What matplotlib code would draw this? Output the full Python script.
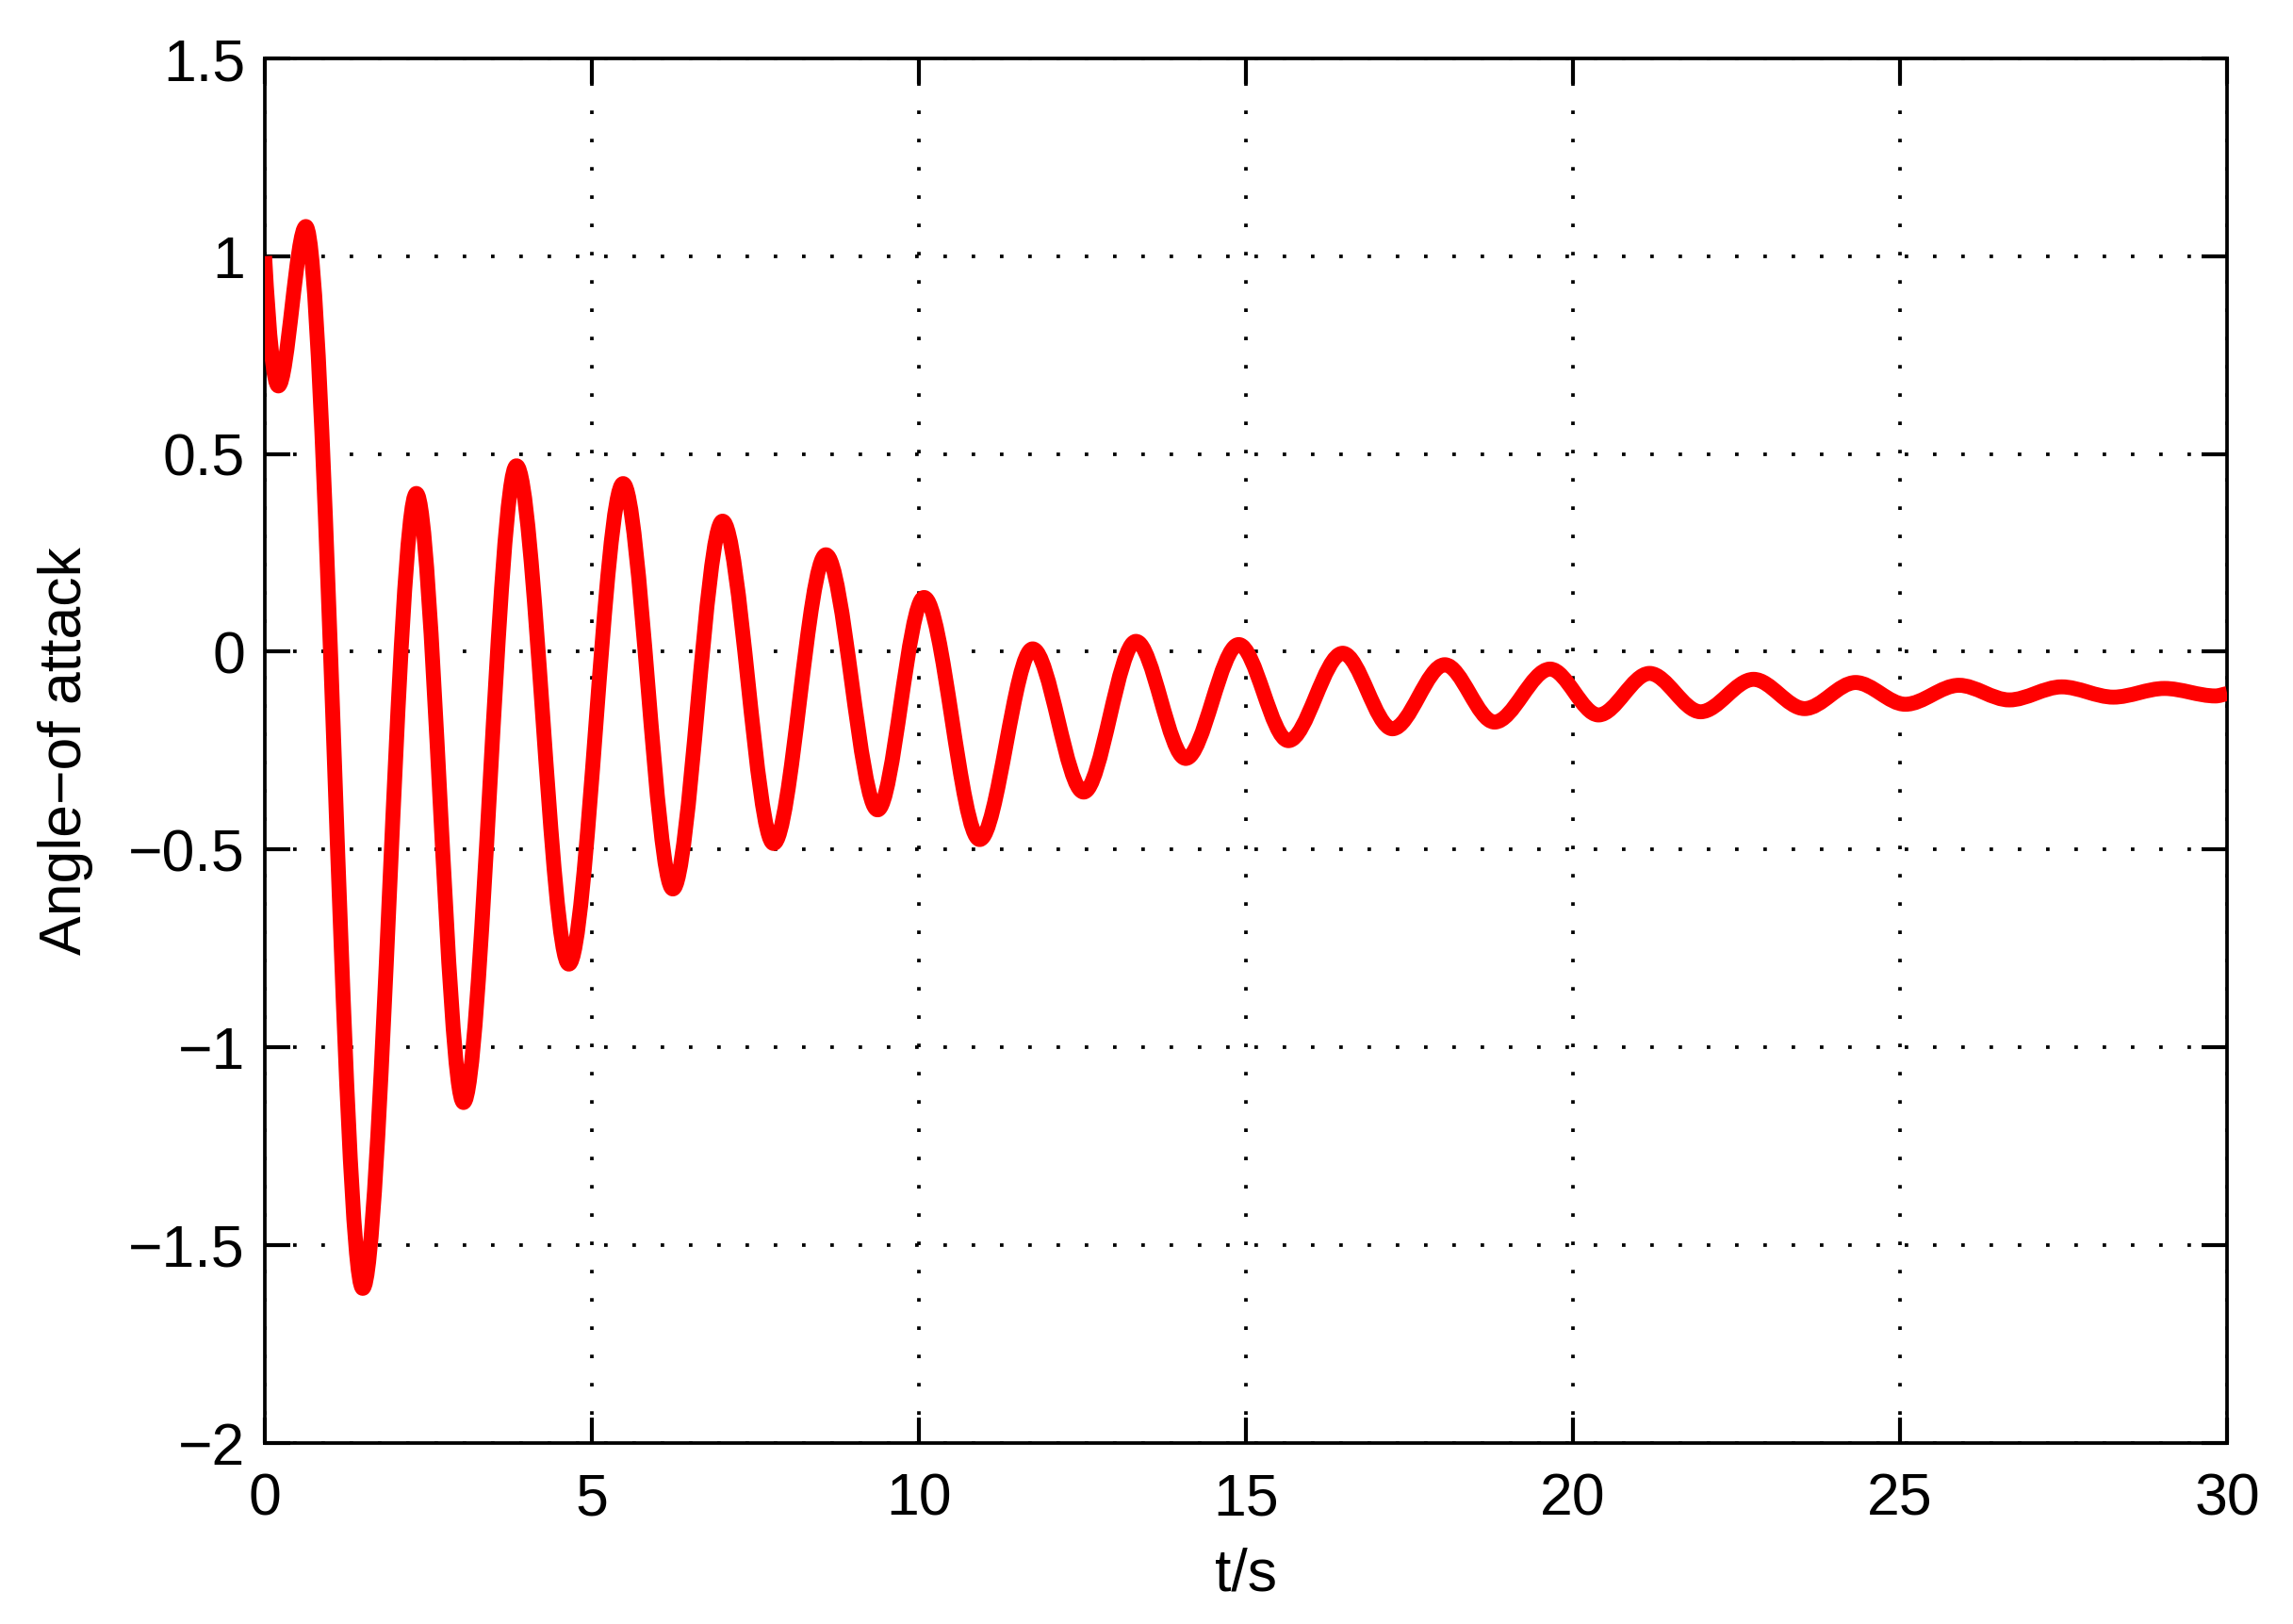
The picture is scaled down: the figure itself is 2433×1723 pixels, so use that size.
import numpy as np
import matplotlib
matplotlib.use("Agg")
import matplotlib.pyplot as plt
from matplotlib.path import Path
from matplotlib.patches import PathPatch

plt.rcParams['font.family'] = ['Liberation Sans', 'DejaVu Sans']

# extrema of the response (t in s)
t_pts = [0.0, 0.21, 0.63, 1.50, 2.32, 3.04, 3.85, 4.65, 5.48, 6.24, 7.00, 7.78,
         8.58, 9.37, 10.08, 10.93, 11.74, 12.52, 13.32, 14.08, 14.89, 15.65,
         16.48, 17.24, 18.04, 18.80, 19.65, 20.39, 21.17, 21.95, 22.76, 23.54,
         24.32, 25.08, 25.90, 26.67, 27.47, 28.26, 29.04, 29.82, 30.0]
alpha = [1.00, 0.672, 1.075, -1.61, 0.40, -1.14, 0.47, -0.79, 0.425, -0.60,
         0.33, -0.485, 0.245, -0.40, 0.137, -0.475, 0.007, -0.355, 0.026,
         -0.27, 0.018, -0.225, -0.004, -0.195, -0.033, -0.178, -0.044, -0.16,
         -0.055, -0.152, -0.07, -0.144, -0.078, -0.133, -0.085, -0.122, -0.089,
         -0.115, -0.093, -0.112, -0.106]
# slope at each point (zero at the extrema)
slope = [-3.0] + [0.0] * (len(t_pts) - 2) + [0.03]

xticks = [0, 5, 10, 15, 20, 25, 30]
yticks = [-2, -1.5, -1, -0.5, 0, 0.5, 1, 1.5]

fig = plt.figure(figsize=(2433 / 300, 1723 / 300), dpi=300)
ax = fig.add_axes([0.1154, 0.1117, 0.9713 - 0.1154, 0.964 - 0.1117])

# smooth curve through the extrema: cubic Bezier segments
verts = [(t_pts[0], alpha[0])]
codes = [Path.MOVETO]
for i in range(len(t_pts) - 1):
    t0, t1 = t_pts[i], t_pts[i + 1]
    y0, y1 = alpha[i], alpha[i + 1]
    dt = t1 - t0
    verts += [(t0 + dt / 3, y0 + slope[i] * dt / 3),
              (t1 - dt / 3, y1 - slope[i + 1] * dt / 3),
              (t1, y1)]
    codes += [Path.CURVE4] * 3
ax.add_patch(PathPatch(Path(verts, codes), facecolor='none', edgecolor='#ff0000',
                       lw=3.8, joinstyle='round', capstyle='butt', zorder=3))

ax.set_xlim(0, 30)
ax.set_ylim(-2, 1.5)
ax.set_xticks(xticks)
ax.set_yticks(yticks)
ax.set_xticklabels([str(v) for v in xticks])
ax.set_yticklabels(['\u22122', '\u22121.5', '\u22121', '\u22120.5', '0', '0.5', '1', '1.5'])

ax.grid(True, color='black', linestyle=(0, (1, 7)), linewidth=0.9)
ax.tick_params(direction='in', length=6.5, width=1.0, top=True, right=True,
               labelsize=15, pad=5, colors='black')
ax.tick_params(axis='x', pad=7.5)
for s in ax.spines.values():
    s.set_linewidth(0.9)

ax.set_xlabel('t/s', fontsize=15, labelpad=5)
ax.set_ylabel('Angle\u2212of attack', fontsize=15, labelpad=9)

fig.savefig('out.png', dpi=300, facecolor='white')
